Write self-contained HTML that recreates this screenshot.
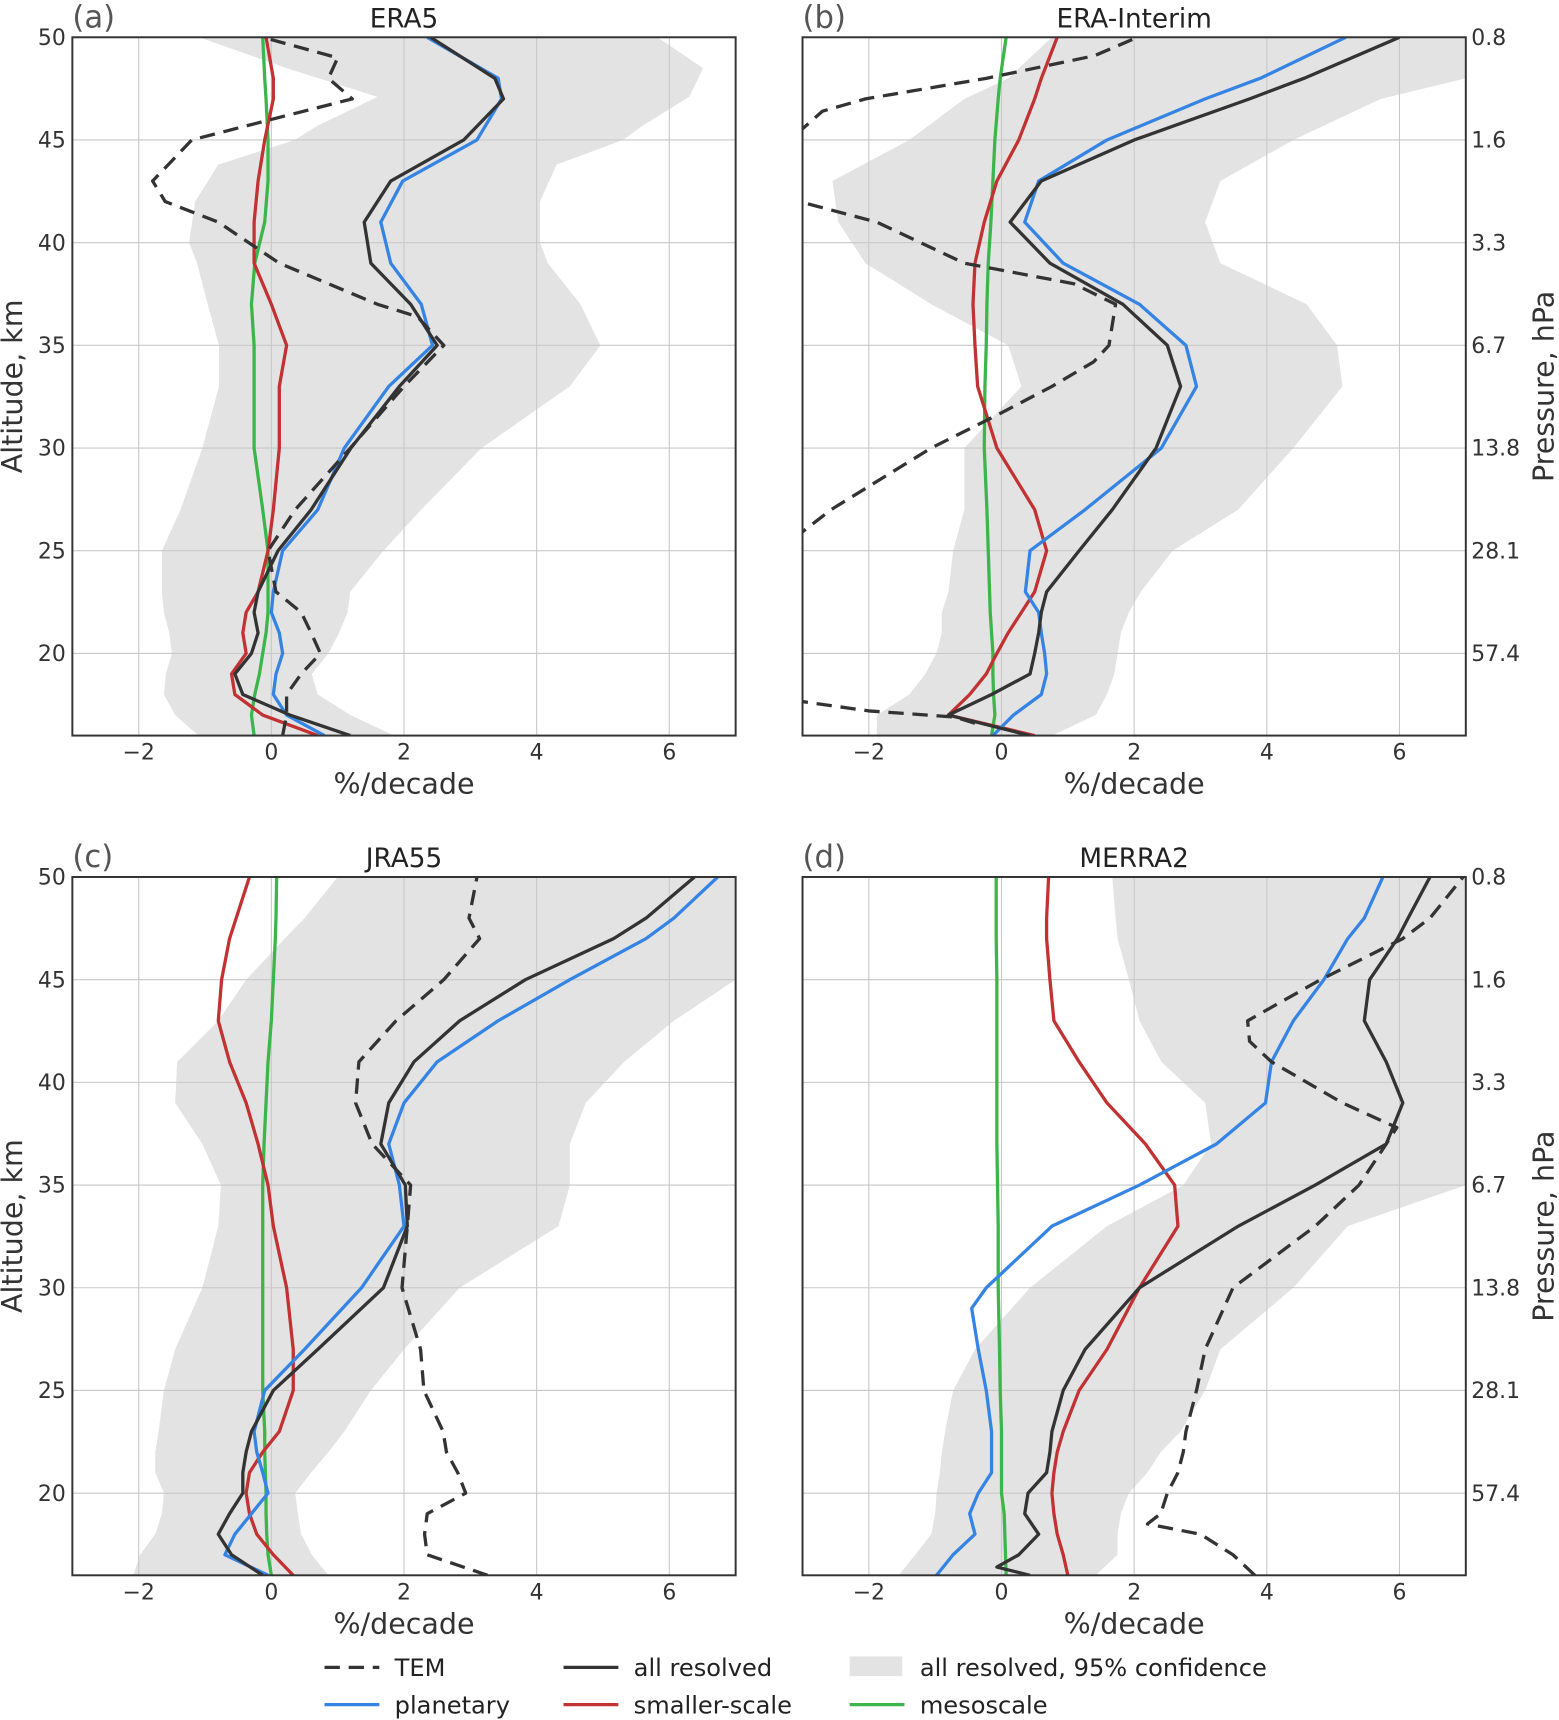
<!DOCTYPE html>
<html><head><meta charset="utf-8">
<style>
html,body{margin:0;padding:0;background:#fff;}
svg{display:block;font-family:"DejaVu Sans","Liberation Sans",sans-serif;}
</style></head>
<body>
<svg id="chart" width="1559" height="1720" viewBox="0 0 1422 1569" preserveAspectRatio="none" xmlns="http://www.w3.org/2000/svg"></svg>
<script>
// ---- data (altitude km, trend %/decade) ----
const xTicks = [-2, 0, 2, 4, 6];
const yTicks = [20, 25, 30, 35, 40, 45, 50];
const pTickLabels = ["57.4", "28.1", "13.8", "6.7", "3.3", "1.6", "0.8"];
const panelTitles = ["ERA5", "ERA-Interim", "JRA55", "MERRA2"];
const panelLetters = ["(a)", "(b)", "(c)", "(d)"];

const altStd = [16,17,18,19,20,21,22,23,25,27,30,33,35,37,39,41,43,45,47,48,50];

// ERA5
const a_all = [1.19,0.28,-0.43,-0.55,-0.3,-0.2,-0.26,-0.2,0.1,0.6,1.2,1.93,2.5,2.1,1.5,1.4,1.8,2.9,3.5,3.37,2.4];
const a_plan = [0.8,0.23,0.03,0.07,0.17,0.12,0,0.03,0.17,0.7,1.1,1.77,2.43,2.26,1.8,1.65,1.98,3.1,3.47,3.42,2.35];
const a_small = [0.7,-0.13,-0.55,-0.6,-0.38,-0.43,-0.38,-0.2,-0.05,0.03,0.12,0.12,0.23,0,-0.26,-0.26,-0.2,-0.1,0.03,0.03,-0.08];
const a_meso = [-0.26,-0.3,-0.25,-0.18,-0.13,-0.08,-0.05,-0.05,-0.05,-0.13,-0.26,-0.26,-0.26,-0.3,-0.25,-0.1,-0.05,-0.05,-0.08,-0.1,-0.13];
const a_tem_alt = [16,17,18,19,20,21,22,23,25,27,30,33,35,36.4,37,39,41,42,43,45,46,47,48,49,50];
const a_tem = [0.17,0.23,0.23,0.45,0.74,0.6,0.45,0.07,-0.05,0.36,1.19,2.0,2.6,2.2,1.6,0.12,-0.8,-1.6,-1.79,-1.2,0,1.22,0.86,1.0,-0.13];
const a_band_alt = [16,17,18,19,20,21,22,23,25,27,30,33,35,37,39,40,42,43.8,45,45.7,47.1,48.5,50];
const a_lo = [-1.1,-1.45,-1.62,-1.59,-1.5,-1.54,-1.62,-1.65,-1.65,-1.37,-1.04,-0.79,-0.79,-0.96,-1.12,-1.24,-1.15,-0.8,0.35,0.7,1.6,0.23,-1.09];
const a_hi = [1.85,1.19,0.7,0.61,0.86,1.02,1.15,1.19,1.69,2.26,3.17,4.5,4.96,4.66,4.17,4.05,4.05,4.3,5.3,5.6,6.3,6.51,5.82];

// ERA-Interim
const b_all = [0.43,-0.8,-0.15,0.43,0.5,0.56,0.6,0.68,1.17,1.67,2.33,2.7,2.5,1.83,0.73,0.13,0.6,2.0,3.74,4.56,6.0];
const b_plan = [-0.13,0.18,0.6,0.68,0.65,0.6,0.56,0.36,0.43,1.26,2.41,2.94,2.78,2.08,0.93,0.35,0.56,1.59,3.07,3.9,5.19];
const b_small = [0.5,-0.8,-0.48,-0.23,-0.07,0.1,0.3,0.5,0.68,0.5,-0.07,-0.36,-0.4,-0.43,-0.4,-0.26,-0.07,0.26,0.5,0.6,0.84];
const b_meso = [-0.15,-0.1,-0.12,-0.13,-0.13,-0.15,-0.17,-0.18,-0.2,-0.22,-0.26,-0.25,-0.23,-0.22,-0.2,-0.16,-0.13,-0.1,-0.05,-0.02,0.07];
const b_tem_alt = [16.6,16.9,17.2,17.7,18.5,20,21.9,23,25,25.8,27,30,31.6,33,34.2,35,37,38,39,41,42,43.5,45.4,46.4,47,48,49.1,50];
const b_tem = [-0.4,-0.7,-2,-3.1,-5,-5,-3.0,-5,-4,-3.05,-2.57,-1.06,-0.07,0.76,1.39,1.62,1.72,1.09,-0.56,-1.88,-3.05,-5,-3.05,-2.7,-2.05,-0.23,1.4,2.05];
const b_lo = [-1.88,-1.88,-1.39,-1.15,-0.98,-0.9,-0.9,-0.8,-0.73,-0.56,-0.56,0.3,0.1,-1.06,-2.05,-2.46,-2.55,-1.39,-0.56,0.1,0.76];
const b_hi = [0.76,1.42,1.59,1.7,1.75,1.8,1.92,2.1,2.58,3.57,4.4,5.14,5.06,4.6,3.3,3.07,3.3,4.4,5.72,7,7];

// JRA55
const c_all = [-0.13,-0.6,-0.8,-0.63,-0.43,-0.43,-0.38,-0.3,0.03,0.7,1.69,2.05,2.02,1.65,1.77,2.15,2.84,3.83,5.16,5.65,6.38];
const c_plan = [-0.05,-0.7,-0.55,-0.3,-0.05,-0.13,-0.22,-0.26,-0.1,0.5,1.36,2.0,1.93,1.77,2.0,2.5,3.42,4.5,5.65,6.07,6.73];
const c_small = [0.33,0.03,-0.22,-0.33,-0.38,-0.33,-0.13,0.12,0.33,0.33,0.23,0.03,-0.05,-0.2,-0.38,-0.63,-0.8,-0.75,-0.63,-0.53,-0.33];
const c_meso = [0,-0.05,-0.07,-0.08,-0.08,-0.09,-0.1,-0.1,-0.13,-0.13,-0.13,-0.13,-0.13,-0.11,-0.08,-0.05,0,0.03,0.06,0.07,0.08];
const c_tem = [3.26,2.35,2.31,2.35,2.93,2.81,2.64,2.59,2.3,2.25,1.97,2.05,2.1,1.52,1.27,1.32,1.88,2.6,3.14,2.98,3.1];
const c_lo = [-2.08,-1.98,-1.75,-1.65,-1.62,-1.75,-1.75,-1.7,-1.62,-1.45,-1.04,-0.8,-0.76,-1.04,-1.45,-1.42,-0.8,-0.38,0.2,0.5,1.0];
const c_hi = [0.86,0.61,0.45,0.4,0.36,0.6,0.86,1.1,1.5,2.0,2.84,4.33,4.5,4.5,4.74,5.32,6.07,7,7,7,7];

// MERRA2
const d_all_alt = [16,16.4,17,18,19,20,21,22,23,25,27,30,33,35,37,39,41,43,45,47,48,50];
const d_all = [0.43,-0.07,0.26,0.56,0.35,0.4,0.68,0.73,0.76,0.93,1.26,2.08,3.57,4.73,5.8,6.05,5.8,5.47,5.55,5.97,6.13,6.46];
const d_plan_alt = [16,17,18,19,20,21,23,25,27,29,30,33,35,37,39,41,43,45,47,48,50];
const d_plan = [-0.98,-0.73,-0.4,-0.48,-0.35,-0.15,-0.15,-0.23,-0.35,-0.45,-0.23,0.76,2.08,3.24,3.98,4.07,4.4,4.86,5.22,5.47,5.75];
const d_small = [1.0,0.93,0.84,0.79,0.76,0.79,0.84,0.93,1.17,1.59,2.08,2.66,2.61,2.17,1.59,1.17,0.79,0.73,0.68,0.68,0.71];
const d_meso = [0.07,0.06,0.05,0.04,0,0,0,0,-0.02,-0.03,-0.05,-0.05,-0.06,-0.07,-0.07,-0.07,-0.07,-0.07,-0.08,-0.08,-0.08];
const d_tem_alt = [16,17,18,18.5,19,20,21,22,23,25,27,30,33,35,37,37.8,39,41,42,43,45,47,48,50];
const d_tem = [3.82,3.49,3.0,2.2,2.4,2.5,2.66,2.74,2.78,2.94,3.07,3.49,4.73,5.39,5.8,5.96,5.14,4.07,3.74,3.71,4.81,6.05,6.46,6.96];
const d_lo = [-1.55,-1.3,-1.06,-1.0,-0.98,-0.93,-0.9,-0.85,-0.73,-0.4,0.43,1.59,2.74,3.16,3.07,2.41,2.08,1.92,1.75,1.72,1.67];
const d_hi = [1.42,1.75,1.75,1.8,1.92,2.2,2.4,2.7,3.07,3.3,4.4,5.22,7,7,7,7,7,7,7,7,7];

// ---- layout ----
const NS = "http://www.w3.org/2000/svg";
const svg = document.getElementById("chart");
const COL = {all:"#333333", plan:"#3584e4", small:"#c23232", meso:"#3cb54a", band:"#e3e3e3", grid:"#c8c8c8"};
const panels = [
  {x0:66, y0:34, left:true, band:[a_band_alt,a_lo,a_hi], tem:[a_tem_alt,a_tem], all:[altStd,a_all], plan:[altStd,a_plan], small:[altStd,a_small], meso:[altStd,a_meso]},
  {x0:732, y0:34, left:false, band:[altStd,b_lo,b_hi], tem:[b_tem_alt,b_tem], all:[altStd,b_all], plan:[altStd,b_plan], small:[altStd,b_small], meso:[altStd,b_meso]},
  {x0:66, y0:800, left:true, band:[altStd,c_lo,c_hi], tem:[altStd,c_tem], all:[altStd,c_all], plan:[altStd,c_plan], small:[altStd,c_small], meso:[altStd,c_meso]},
  {x0:732, y0:800, left:false, band:[altStd,d_lo,d_hi], tem:[d_tem_alt,d_tem], all:[d_all_alt,d_all], plan:[d_plan_alt,d_plan], small:[altStd,d_small], meso:[altStd,d_meso]}
];
const W = 605, H = 637, XMIN = -3, XMAX = 7, YMIN = 16, YMAX = 50;

function mk(tag, attrs, parent) {
  const e = document.createElementNS(NS, tag);
  for (const k in attrs) e.setAttribute(k, attrs[k]);
  (parent || svg).appendChild(e);
  return e;
}

panels.forEach((p, i) => {
  const sx = v => p.x0 + (v - XMIN) / (XMAX - XMIN) * W;
  const sy = a => p.y0 + (YMAX - a) / (YMAX - YMIN) * H;
  const g = mk("g", {});
  
  
  const cp = mk("clipPath", {id: "clip" + i}, g);
  mk("rect", {x: p.x0, y: p.y0, width: W, height: H}, cp);
  xTicks.forEach(t => {
    const tx = mk("text", {x: sx(t), y: p.y0 + H + 22, "text-anchor": "middle", "font-size": 20, fill: "#333"}, g);
    tx.textContent = (t < 0 ? "\u2212" + Math.abs(t) : String(t));
    
    
  });
  yTicks.forEach((t, k) => {
    if (p.left) {
      const tx = mk("text", {x: p.x0 - 6, y: sy(t) + 7, "text-anchor": "end", "font-size": 20, fill: "#333"}, g);
      tx.textContent = String(t);
      
      
    } else {
      const tx = mk("text", {x: p.x0 + W + 5, y: sy(t) + 7, "text-anchor": "start", "font-size": 20, fill: "#333"}, g);
      tx.textContent = pTickLabels[k];
      
      
    }
  });
  const cg = mk("g", {"clip-path": "url(#clip" + i + ")"}, g);
  const [bAlt, bLo, bHi] = p.band;
  let d = "";
  bAlt.forEach((a, k) => { d += (k ? "L" : "M") + sx(bHi[k]) + "," + sy(a); });
  for (let k = bAlt.length - 1; k >= 0; k--) d += "L" + sx(bLo[k]) + "," + sy(bAlt[k]);
  const band = mk("path", {d: d + "Z", fill: COL.band, stroke: "none"}, cg);
  
  
  xTicks.forEach(t => {
    const l = mk("line", {x1: sx(t), x2: sx(t), y1: p.y0, y2: p.y0 + H, stroke: COL.grid, "stroke-width": 1}, cg);
    
    
  });
  yTicks.forEach(t => {
    const l = mk("line", {x1: p.x0, x2: p.x0 + W, y1: sy(t), y2: sy(t), stroke: COL.grid, "stroke-width": 1}, cg);
    
    
  });
  const series = [
    ["meso", COL.meso, null], ["small", COL.small, null], ["plan", COL.plan, null], ["all", COL.all, null], ["tem", COL.all, "14,8"]
  ];
  series.forEach(s => {
    const [alts, vals] = p[s[0]];
    const pts = alts.map((a, k) => sx(vals[k]) + "," + sy(a)).join(" ");
    const attrs = {points: pts, fill: "none", stroke: s[1], "stroke-width": 3, "stroke-linejoin": "round"};
    if (s[2]) attrs["stroke-dasharray"] = s[2];
    const pl = mk("polyline", attrs, cg);
    
    
  });
  const frame = mk("rect", {x: p.x0, y: p.y0, width: W, height: H, fill: "none", stroke: "#333", "stroke-width": 1.8}, g);
  
  
  const title = mk("text", {x: p.x0 + W / 2, y: p.y0 - 9, "text-anchor": "middle", "font-size": 24, fill: "#222"}, g);
  title.textContent = panelTitles[i];
  
  
  const letter = mk("text", {x: p.x0, y: p.y0 - 9, "font-size": 28, fill: "#555"}, g);
  letter.textContent = panelLetters[i];
  
  
  const xl = mk("text", {x: p.x0 + W / 2, y: p.y0 + H + 53, "text-anchor": "middle", "font-size": 26, fill: "#333"}, g);
  xl.textContent = "%/decade";
  
  
  if (p.left) {
    const yl = mk("text", {x: 0, y: 0, "text-anchor": "middle", "font-size": 26, fill: "#333", transform: "translate(20," + (p.y0 + H / 2) + ") rotate(-90)"}, g);
    yl.textContent = "Altitude, km";
    
    
  } else {
    const yl = mk("text", {x: 0, y: 0, "text-anchor": "middle", "font-size": 26, fill: "#333", transform: "translate(1417," + (p.y0 + H / 2) + ") rotate(-90)"}, g);
    yl.textContent = "Pressure, hPa";
    
    
  }
});

const legendItems = [
  {x: 296, y: 1521, type: "dash", color: COL.all, label: "TEM"},
  {x: 514, y: 1521, type: "line", color: COL.all, label: "all resolved"},
  {x: 775, y: 1521, type: "rect", color: COL.band, label: "all resolved, 95% confidence"},
  {x: 296, y: 1555, type: "line", color: COL.plan, label: "planetary"},
  {x: 514, y: 1555, type: "line", color: COL.small, label: "smaller-scale"},
  {x: 775, y: 1555, type: "line", color: COL.meso, label: "mesoscale"}
];
const lg = mk("g", {});


legendItems.forEach(it => {
  const eg = mk("g", {}, lg);
  
  
  if (it.type === "rect") {
    mk("rect", {x: it.x, y: it.y - 10, width: 48, height: 18, fill: it.color}, eg);
  } else {
    const a = {x1: it.x, x2: it.x + 50, y1: it.y, y2: it.y, stroke: it.color, "stroke-width": 3};
    if (it.type === "dash") a["stroke-dasharray"] = "14,8";
    mk("line", a, eg);
  }
  const t = mk("text", {x: it.x + 64, y: it.y + 8, "font-size": 22, fill: "#222"}, eg);
  t.textContent = it.label;
});
</script>
</body></html>
